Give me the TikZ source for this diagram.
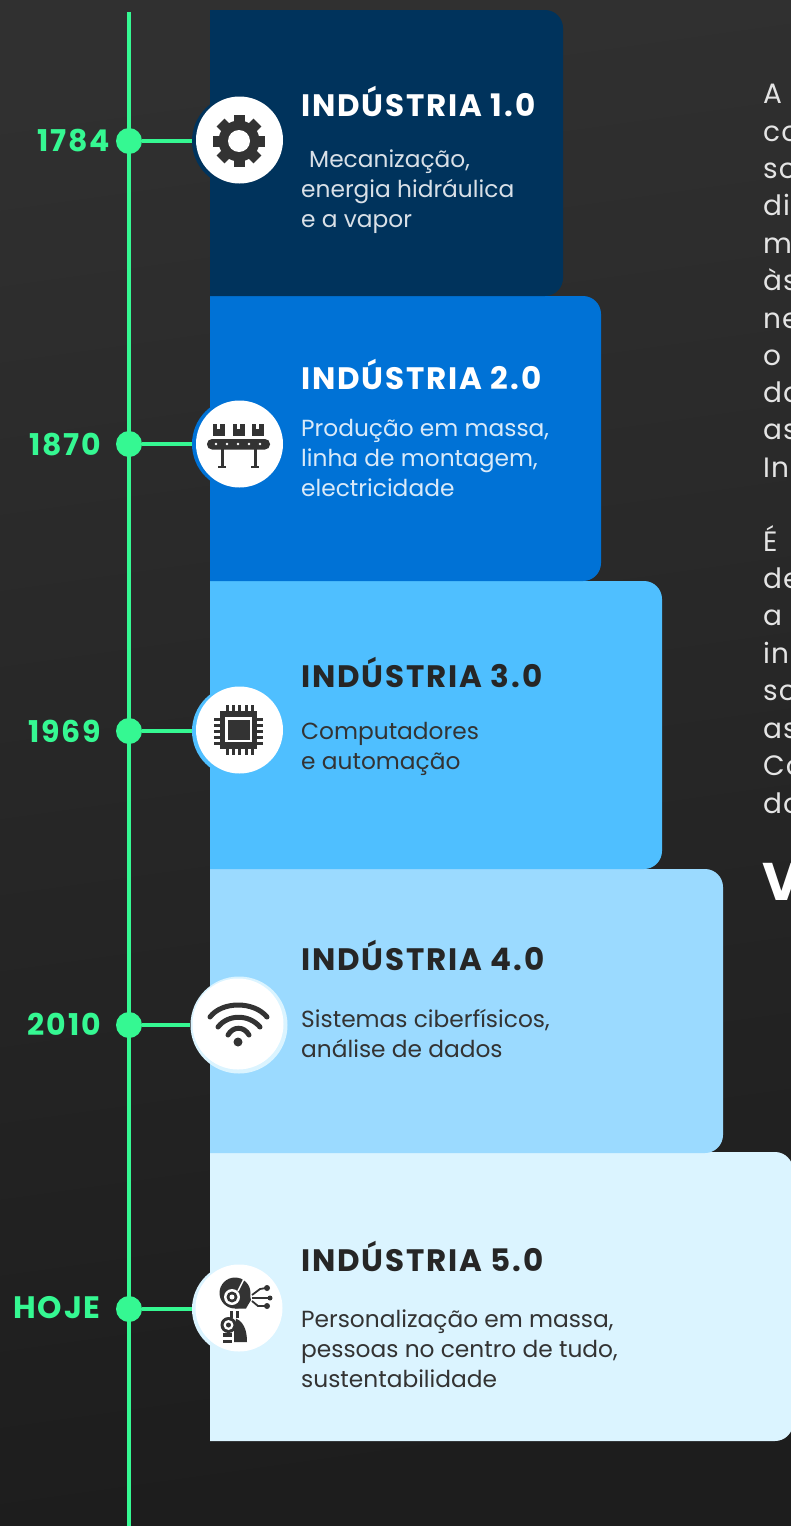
\documentclass[tikz,border=0pt]{standalone}
\usepackage{fontspec}
\setmainfont{Poppins}
\definecolor{bgtop}{HTML}{303030}
\definecolor{bgbot}{HTML}{1D1D1D}
\definecolor{linegreen}{HTML}{35F892}
\definecolor{cardA}{HTML}{00335C}
\definecolor{cardB}{HTML}{0072D6}
\definecolor{cardC}{HTML}{4FBFFF}
\definecolor{cardD}{HTML}{9BDAFF}
\definecolor{cardE}{HTML}{DBF4FF}
\definecolor{icondark}{HTML}{333333}
\definecolor{sidetext}{HTML}{E4E4E4}
\begin{document}
\begin{tikzpicture}[x=1pt,y=-1pt]
    \tikzstyle{year}=[anchor=east,inner sep=0pt,text=linegreen,font=\fontsize{30}{32}\selectfont\bfseries\addfontfeature{LetterSpace=6}]
    \tikzstyle{dot}=[circle,fill=linegreen,inner sep=0pt,minimum size=26pt]
    \tikzstyle{disc}=[circle,fill=white,inner sep=0pt,minimum size=87pt]
    \tikzstyle{backing}=[circle,inner sep=0pt,minimum size=92pt]
    \tikzstyle{title}=[anchor=base west,inner sep=0pt,font=\fontsize{31}{32}\selectfont\bfseries\addfontfeature{LetterSpace=6}]
    \tikzstyle{body}=[anchor=north west,inner sep=0pt,align=left,font=\fontsize{23.3}{30}\selectfont]
    \tikzstyle{side}=[anchor=base west,inner sep=0pt,text=sidetext,font=\fontsize{28}{30}\selectfont\addfontfeature{LetterSpace=4}]
    \tikzstyle{fwd}=[draw=linegreen,line width=4pt]
    \tikzstyle{pin}=[fill=icondark]

    \useasboundingbox (0,0) rectangle (791,1526);
    \shade[top color=bgtop,bottom color=bgbot,shading angle=8] (0,0) rectangle (791,1526);

    % steps, last one first
    \fill[cardE] (210,1152) [rounded corners=18pt] -- (793,1152) -- (793,1441) [sharp corners] -- (210,1441) -- cycle;
    \fill[cardD] (210,869) [rounded corners=18pt] -- (723,869) -- (723,1153) [sharp corners] -- (210,1153) -- cycle;
    \fill[cardC] (210,581) [rounded corners=18pt] -- (662,581) -- (662,869) [sharp corners] -- (210,869) -- cycle;
    \fill[cardB] (210,296) [rounded corners=18pt] -- (601,296) -- (601,581) [sharp corners] -- (210,581) -- cycle;
    \fill[cardA] (210,10) [rounded corners=18pt] -- (563,10) -- (563,296) [sharp corners] -- (210,296) -- cycle;

    % timeline
    \coordinate (top) at (128.5,12);
    \coordinate (bottom) at (128.5,1526);
    \draw [fwd] (top) -- (bottom);

    \node[dot] (d1) at (129,141) {};
    \node[dot] (d2) at (129,444) {};
    \node[dot] (d3) at (129,731) {};
    \node[dot] (d4) at (129,1025) {};
    \node[dot] (d5) at (129,1309) {};

    \node[backing,fill=cardA] (b1) at (238,141) {};
    \node[backing,fill=cardB] (b2) at (238,444) {};
    \node[backing,fill=cardC] (b3) at (238,731) {};
    \node[backing,fill=cardE,minimum size=97pt] (b4) at (239,1025) {};
    \node[backing,fill=cardE] (b5) at (238,1309) {};

    \node[disc] (c1) at (239.5,140) {};
    \node[disc] (c2) at (239.5,444) {};
    \node[disc] (c3) at (239.5,730) {};
    \node[disc,minimum size=91pt] (c4) at (238,1024) {};
    \node[disc] (c5) at (239,1308) {};

    \draw [fwd] (d1) -- (b1);
    \draw [fwd] (d2) -- (b2);
    \draw [fwd] (d3) -- (b3);
    \draw [fwd] (d4) -- (b4);
    \draw [fwd] (d5) -- (b5);

    \node[year] (y1) at (110,141) {1784};
    \node[year] (y2) at (101,445) {1870};
    \node[year] (y3) at (101,731) {1969};
    \node[year] (y4) at (101,1024) {2010};
    \node[year,font=\fontsize{31}{32}\selectfont\bfseries\addfontfeature{LetterSpace=6}] (y5) at (101,1308) {HOJE};

    % gear
    \foreach \a in {0,45,...,315}
        \fill[pin,rotate around={\a:(239,141)}] (233.5,115) rectangle (244.5,130);
    \fill[pin] (239,141) circle (20.5);
    \fill[white] (239,141) circle (11);

    % conveyor
    \fill[pin,rounded corners=5pt] (207,439) rectangle (270,449.5);
    \foreach \x in {216,227,238,249,260}
        \fill[white] (\x,444) circle (1.4);
    \fill[pin] (220.5,449) rectangle (223.5,466);
    \fill[pin] (253.5,449) rectangle (256.5,466);
    \fill[pin] (218,466) rectangle (226,468);
    \fill[pin] (251,466) rectangle (259,468);
    \foreach \x in {213,233,252} {
        \fill[pin] (\x,424) rectangle ++(11.5,12);
        \fill[white] (\x+4.2,424) rectangle ++(3,4.5);
    }

    % chip
    \fill[pin] (220,711) rectangle (257,749);
    \fill[white] (225,717) rectangle (252,742);
    \fill[pin] (227.5,719.5) rectangle (249.5,739.5);
    \foreach \k in {0,1,2,3,4} {
        \fill[pin] (225.7+6.3*\k,705) rectangle ++(3,6);
        \fill[pin] (225.7+6.3*\k,749) rectangle ++(3,6);
        \fill[pin] (214,717.5+6.1*\k) rectangle ++(6,3);
        \fill[pin] (257,717.5+6.1*\k) rectangle ++(6,3);
    }

    % wifi
    \draw[icondark,line width=5pt,line cap=round] (210,1017) .. controls (222,1001) and (254,1001) .. (267,1017);
    \draw[icondark,line width=5pt,line cap=round] (218,1027) .. controls (228,1014) and (249,1014) .. (260,1027);
    \draw[icondark,line width=5pt,line cap=round] (228,1035) .. controls (233,1026) and (244,1026) .. (249,1035);
    \fill[pin] (238,1042) circle (4.5);

    % robot
    \fill[pin] (235,1293) circle (15.5);
    \fill[pin] (240,1278.5) -- (248,1285) -- (251,1300) -- (248,1305) -- (246,1308.5) -- (235,1308.5) -- cycle;
    \fill[white] (232,1297) circle (8);
    \fill[pin] (232,1297) circle (5.5);
    \fill[white] (232,1297) circle (2.5);
    \draw[white,line width=1.5pt] (238,1291) -- (244,1279);
    \fill[pin] (230,1311) rectangle (232.5,1318);
    \fill[pin] (236,1311) rectangle (238.5,1318);
    \fill[pin] (228.5,1325) circle (8);
    \fill[white] (228.5,1325) circle (5);
    \fill[pin] (228.5,1325) circle (2.5);
    \fill[pin] (236,1318.5) .. controls (246,1323) and (247,1335) .. (247,1342) -- (234,1342) -- (234,1331) -- cycle;
    \fill[pin] (223,1333) rectangle (232,1337);
    \fill[pin] (223,1340) rectangle (232,1343);
    \draw[icondark,line width=1.8pt] (252,1295) -- (260,1289) -- (266,1288);
    \draw[icondark,line width=1.8pt] (252,1298) -- (269,1298);
    \draw[icondark,line width=1.8pt] (252,1301) -- (258,1306) -- (266,1306);
    \fill[pin] (267,1288) circle (3);
    \fill[pin] (270,1298) circle (2.5);
    \fill[pin] (267,1306) circle (3);

    % texts in the steps
    \node[title,text=white] (t1) at (301,116) {INDÚSTRIA 1.0};
    \node[body,text=white!85!cardA] (s1) at (301,150) {\hspace{8pt}Mecanização,\\energia hidráulica\\e a vapor};
    \node[title,text=white] (t2) at (301,389) {INDÚSTRIA 2.0};
    \node[body,text=white!85!cardB] (s2) at (301,419) {Produção em massa,\\linha de montagem,\\electricidade};
    \node[title,text=black!85] (t3) at (301,687) {INDÚSTRIA 3.0};
    \node[body,text=icondark] (s3) at (301,722) {Computadores\\e automação};
    \node[title,text=black!85] (t4) at (301,970) {INDÚSTRIA 4.0};
    \node[body,text=icondark] (s4) at (301,1009) {Sistemas ciberfísicos,\\análise de dados};
    \node[title,text=black!85] (t5) at (301,1271) {INDÚSTRIA 5.0};
    \node[body,text=icondark] (s5) at (301,1310) {Personalização em massa,\\pessoas no centro de tudo,\\sustentabilidade};

    % side column, cut by the page edge
    \node[side] (l1) at (763,103) {A};
    \node[side] (l2) at (763,141) {co};
    \node[side] (l3) at (763,178) {so};
    \node[side] (l4) at (763,215) {di};
    \node[side] (l5) at (763,253) {m};
    \node[side] (l6) at (763,290) {às};
    \node[side] (l7) at (763,328) {ne};
    \node[side] (l8) at (763,365) {o};
    \node[side] (l9) at (763,402) {da};
    \node[side] (l10) at (763,439) {as};
    \node[side] (l11) at (763,477) {In};
    \node[side] (l12) at (763,551) {É};
    \node[side] (l13) at (763,588) {de};
    \node[side] (l14) at (763,625) {a};
    \node[side] (l15) at (763,663) {in};
    \node[side] (l16) at (763,700) {so};
    \node[side] (l17) at (763,738) {as};
    \node[side] (l18) at (763,775) {Co};
    \node[side] (l19) at (763,813) {do};
    \node[side,text=white,font=\fontsize{53}{53}\selectfont\bfseries] (l20) at (762,900) {V};
\end{tikzpicture}
\end{document}
